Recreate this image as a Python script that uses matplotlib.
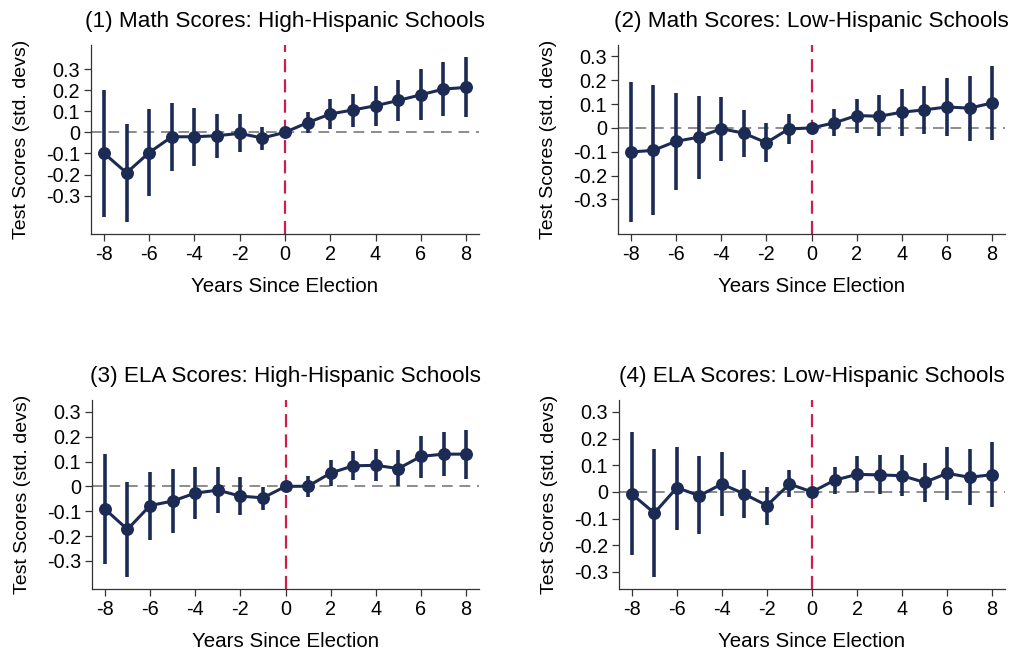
import matplotlib
matplotlib.use("Agg")
import matplotlib.pyplot as plt
import numpy as np

plt.rcParams['font.family'] = ['Liberation Sans', 'DejaVu Sans']

years = np.arange(-8, 9)

titles = ["(1) Math Scores: High-Hispanic Schools",
          "(2) Math Scores: Low-Hispanic Schools",
          "(3) ELA Scores: High-Hispanic Schools",
          "(4) ELA Scores: Low-Hispanic Schools"]

# point estimates, years -8..8 (0 is the reference year)
math_high = [-0.099, -0.192, -0.096, -0.021, -0.021, -0.016, -0.005, -0.027, 0.0,
             0.046, 0.087, 0.106, 0.126, 0.151, 0.178, 0.205, 0.213]
math_high_lo = [-0.402, -0.423, -0.301, -0.183, -0.158, -0.120, -0.095, -0.082, 0.0,
                -0.005, 0.017, 0.027, 0.032, 0.052, 0.060, 0.079, 0.071]
math_high_hi = [0.203, 0.041, 0.110, 0.137, 0.117, 0.088, 0.085, 0.024, 0.0,
                0.095, 0.158, 0.180, 0.221, 0.248, 0.300, 0.333, 0.358]

math_low = [-0.101, -0.094, -0.056, -0.039, -0.003, -0.022, -0.062, -0.004, 0.0,
            0.021, 0.052, 0.049, 0.066, 0.076, 0.088, 0.083, 0.105]
math_low_lo = [-0.393, -0.365, -0.260, -0.213, -0.140, -0.120, -0.145, -0.067, 0.0,
               -0.035, -0.020, -0.035, -0.034, -0.024, -0.034, -0.056, -0.050]
math_low_hi = [0.192, 0.180, 0.145, 0.133, 0.129, 0.076, 0.022, 0.059, 0.0,
               0.080, 0.123, 0.137, 0.165, 0.176, 0.211, 0.218, 0.260]

ela_high = [-0.091, -0.173, -0.077, -0.059, -0.027, -0.015, -0.039, -0.046, 0.0,
            0.001, 0.054, 0.083, 0.085, 0.072, 0.121, 0.130, 0.130]
ela_high_lo = [-0.311, -0.365, -0.216, -0.189, -0.130, -0.107, -0.117, -0.093, 0.0,
               -0.042, 0.000, 0.026, 0.021, 0.000, 0.035, 0.040, 0.031]
ela_high_hi = [0.132, 0.017, 0.058, 0.072, 0.077, 0.077, 0.038, -0.001, 0.0,
               0.042, 0.105, 0.142, 0.150, 0.145, 0.205, 0.219, 0.228]

ela_low = [-0.008, -0.079, 0.016, -0.014, 0.030, -0.008, -0.051, 0.030, 0.0,
           0.044, 0.066, 0.064, 0.061, 0.036, 0.070, 0.055, 0.065]
ela_low_lo = [-0.238, -0.319, -0.141, -0.159, -0.089, -0.096, -0.124, -0.020, 0.0,
              -0.008, -0.001, -0.009, -0.016, -0.039, -0.031, -0.050, -0.055]
ela_low_hi = [0.225, 0.161, 0.170, 0.134, 0.149, 0.084, 0.019, 0.083, 0.0,
              0.095, 0.135, 0.138, 0.140, 0.110, 0.169, 0.160, 0.186]

panels = [(math_high, math_high_lo, math_high_hi),
          (math_low, math_low_lo, math_low_hi),
          (ela_high, ela_high_lo, ela_high_hi),
          (ela_low, ela_low_lo, ela_low_hi)]

# y-ranges differ a bit per panel, as in the original
ylims = [(-0.482, 0.414), (-0.445, 0.348), (-0.413, 0.348), (-0.364, 0.345)]

# axes boxes in pixels: left, top, right, bottom
boxes = [(91, 45, 479, 234), (618, 45, 1005, 234),
         (92, 400, 479, 589), (619, 400, 1005, 589)]

navy = '#1c2b54'
red = '#cc1f4e'
W, H = 1012, 654

fig = plt.figure(figsize=(W / 100, H / 100), dpi=100)

for i in range(4):
    l, t, r, b = boxes[i]
    ax = fig.add_axes([l / W, 1 - b / H, (r - l) / W, (b - t) / H])
    est, lo, hi = panels[i]
    est = np.array(est)
    lo = np.array(lo)
    hi = np.array(hi)

    ax.axhline(0, color='#8c8c8c', lw=1.4, dashes=(5.5, 3.5), zorder=1)
    ax.axvline(0, color=red, lw=1.6, dashes=(5.9, 3.2), zorder=1)
    ax.vlines(years, lo, hi, color=navy, lw=2.6, zorder=2)
    ax.plot(years, est, color=navy, lw=2.2, marker='o', ms=8.3, zorder=3)

    ax.set_xlim(-8.57, 8.57)
    ax.set_ylim(*ylims[i])
    ax.set_xticks(np.arange(-8, 9, 2))
    ax.set_xticklabels([str(v) for v in range(-8, 9, 2)])
    yt = [-0.3, -0.2, -0.1, 0, 0.1, 0.2, 0.3]
    ax.set_yticks(yt)
    ax.set_yticklabels(['-0.3', '-0.2', '-0.1', '0', '0.1', '0.2', '0.3'])
    ax.tick_params(labelsize=14.3, length=5, width=0.9, color='#333333', pad=3)

    for s in ['top', 'right']:
        ax.spines[s].set_visible(False)
    for s in ['left', 'bottom']:
        ax.spines[s].set_color('#333333')
        ax.spines[s].set_linewidth(0.9)

    ax.set_title(titles[i], fontsize=16.2, pad=13)
    ax.set_xlabel('Years Since Election', fontsize=14.8, labelpad=9)
    ax.set_ylabel('Test Scores (std. devs)', fontsize=14, labelpad=11)

fig.savefig('out.png', dpi=100)
